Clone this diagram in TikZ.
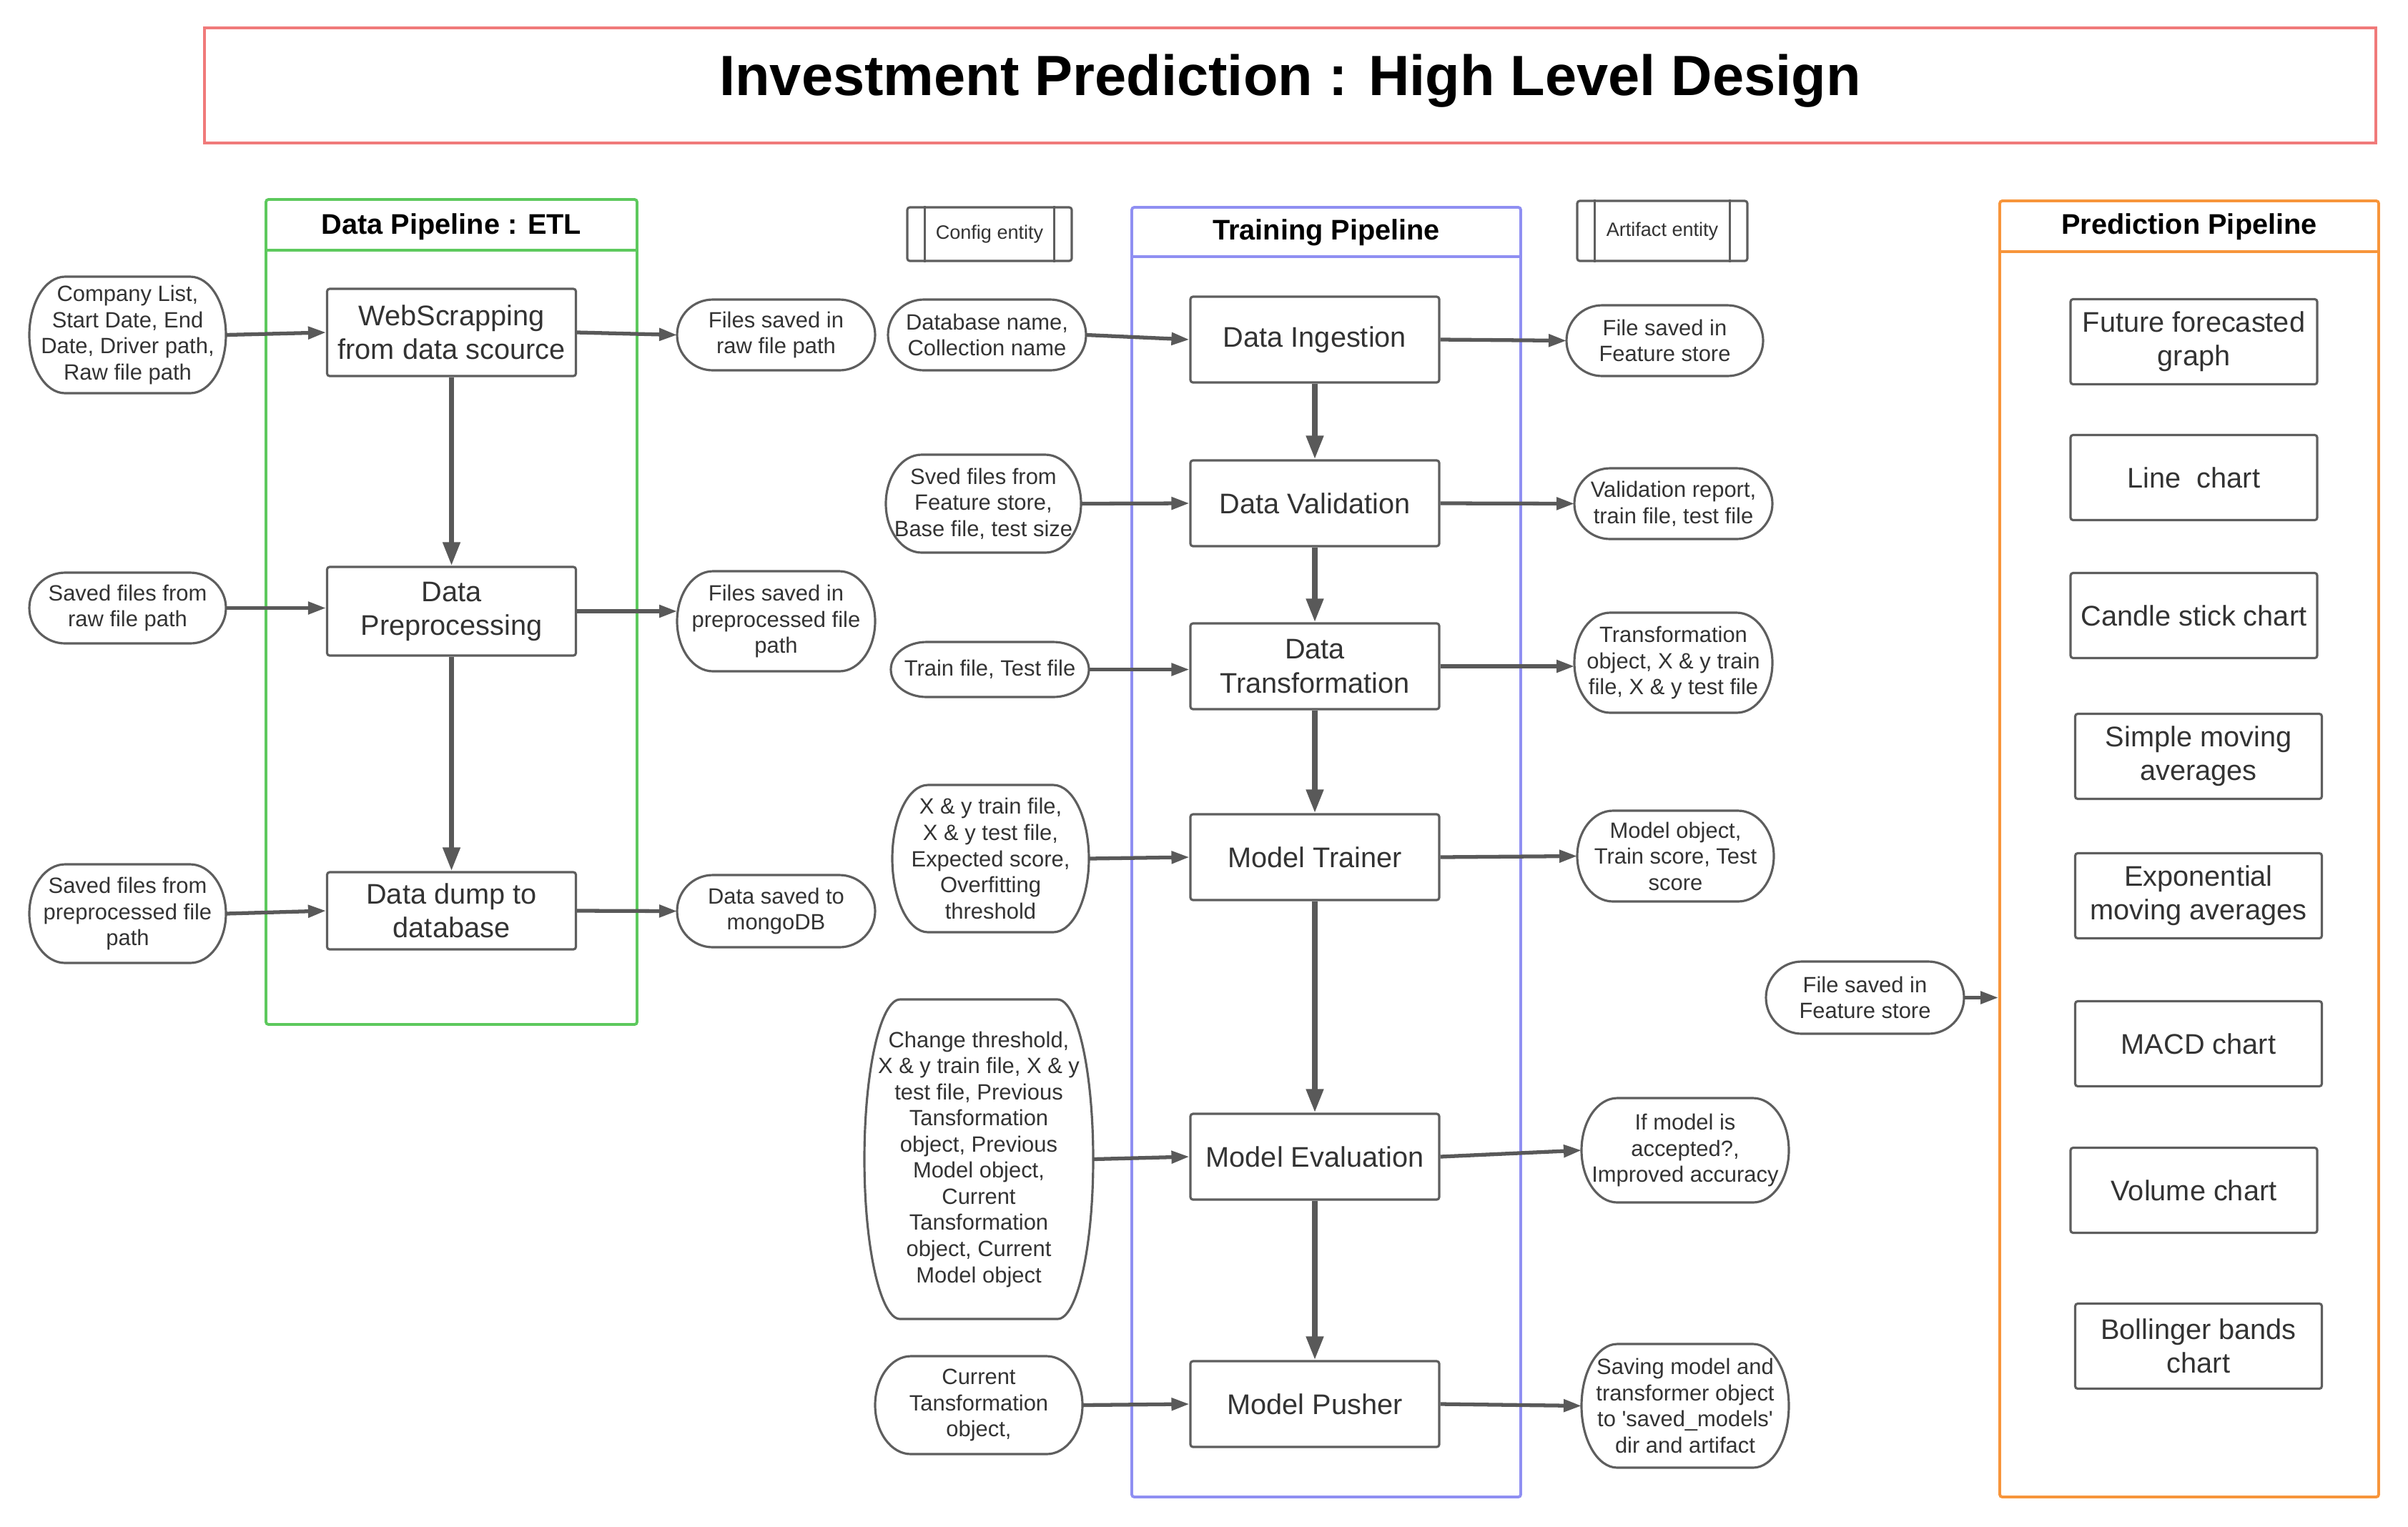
\documentclass[tikz,border=0pt]{standalone}
\usepackage{fontspec}
\setmainfont{Liberation Sans}
\usetikzlibrary{arrows.meta,calc}

\definecolor{linegray}{HTML}{5E5E5E}
\definecolor{arrgray}{HTML}{595959}
\definecolor{txtgray}{HTML}{333333}
\definecolor{etlgreen}{HTML}{5DC95D}
\definecolor{trainblue}{HTML}{8F8FF2}
\definecolor{predorange}{HTML}{F7953B}
\definecolor{titlered}{HTML}{F07A7A}

\newcommand\termfont{\fontsize{8.8}{10.4}\selectfont}
\newcommand\procfont{\fontsize{11.3}{13.4}\selectfont}
\newcommand\headfont{\fontsize{11.3}{13.4}\selectfont\bfseries}
\newcommand\entfont{\fontsize{7.7}{9}\selectfont}

% terminator outline round a named node
\newcommand\termshape[1]{%
  \draw[termline] let \p1=(#1.north west), \p2=(#1.south east), \n1={(\y1-\y2)/2} in
    (\x1+0.5cm,\y1) -- (\x2-0.5cm,\y1)
    arc[start angle=90, end angle=-90, x radius=0.5cm, y radius=\n1]
    -- (\x1+0.5cm,\y2)
    arc[start angle=270, end angle=90, x radius=0.5cm, y radius=\n1] -- cycle;}

\begin{document}
\begin{tikzpicture}[>=Stealth,font=\termfont,text=txtgray]
\tikzstyle{proc}=[draw=linegray,line width=0.9pt,rounded corners=1pt,minimum width=3.48cm,minimum height=1.2cm,align=center,font=\procfont]
\tikzstyle{pbox}=[draw=linegray,line width=0.9pt,rounded corners=1pt,minimum width=3.45cm,minimum height=1.19cm,align=center,font=\procfont]
\tikzstyle{term}=[align=center,inner sep=0pt,outer sep=0pt]
\tikzstyle{termline}=[draw=linegray,line width=0.9pt]
\tikzstyle{lane}=[line width=1.1pt,rounded corners=1pt]
\tikzstyle{arr}=[-{Triangle[length=0.25cm,width=0.17cm]},line width=1.5pt,draw=arrgray]
\tikzstyle{varr}=[-{Triangle[length=0.33cm,width=0.23cm]},line width=2.1pt,draw=arrgray]

\useasboundingbox (0,0) rectangle (33.68,-21.35);

% title
\node[draw=titlered,line width=1pt,minimum width=30.37cm,minimum height=1.61cm] (title) at (18.045,-1.195) {};
\node[font=\fontsize{22.6}{27}\selectfont\bfseries,text=black] (titletext) at (18.045,-1.135) {Investment Prediction : High Level Design};

% lanes
\node[lane,draw=etlgreen,minimum width=5.19cm,minimum height=11.54cm] (etl) at (6.315,-8.56) {};
\draw[lane,etlgreen] ($(etl.north west)+(0,-0.73)$) -- ($(etl.north east)+(0,-0.73)$);
\node[font=\headfont,text=black] (etlhead) at (6.315,-3.17) {Data Pipeline : ETL};
\node[lane,draw=trainblue,minimum width=5.44cm,minimum height=18.04cm] (train) at (18.55,-11.92) {};
\draw[lane,trainblue] ($(train.north west)+(0,-0.71)$) -- ($(train.north east)+(0,-0.71)$);
\node[font=\headfont,text=black] (trainhead) at (18.55,-3.255) {Training Pipeline};
\node[lane,draw=predorange,minimum width=5.30cm,minimum height=18.13cm] (pred) at (30.62,-11.875) {};
\draw[lane,predorange] ($(pred.north west)+(0,-0.73)$) -- ($(pred.north east)+(0,-0.73)$);
\node[font=\headfont,text=black] (predhead) at (30.62,-3.175) {Prediction Pipeline};

% entity keys
\node[draw=linegray,line width=0.9pt,rounded corners=1pt,minimum width=2.30cm,minimum height=0.75cm,font=\entfont] (cfg) at (13.84,-3.275) {Config entity};
\node[draw=linegray,line width=0.9pt,rounded corners=1pt,minimum width=2.38cm,minimum height=0.84cm,font=\entfont] (art) at (23.25,-3.23) {Artifact entity};
\foreach \e in {cfg,art} {
  \draw[linegray,line width=0.9pt] ($(\e.north west)+(0.26,0)$) -- ($(\e.south west)+(0.26,0)$);
  \draw[linegray,line width=0.9pt] ($(\e.north east)+(-0.26,0)$) -- ($(\e.south east)+(-0.26,0)$);
}

% data pipeline steps
\node[proc,minimum height=1.22cm] (ws) at (6.315,-4.65) {WebScrapping\\from data scource};
\node[proc,minimum height=1.24cm] (pre) at (6.315,-8.55) {Data\\Preprocessing};
\node[proc,minimum height=1.08cm] (dump) at (6.315,-12.74) {Data dump to\\database};

% training steps
\foreach \nm/\y/\txt in {ing/4.75/Data Ingestion, val/7.04/Data Validation, trf/9.32/{Data\\Transformation}, trn/11.99/Model Trainer, evl/16.18/Model Evaluation, psh/19.64/Model Pusher}
  \node[proc] (\nm) at (18.39,-\y) {\txt};

% prediction outputs
\foreach \nm/\x/\y/\txt in {fut/30.685/4.78/{Future forecasted\\graph}, lin/30.685/6.68/Line~~chart, can/30.685/8.61/Candle stick chart, sma/30.75/10.58/{Simple moving\\averages}, ema/30.75/12.53/{Exponential\\moving averages}, macd/30.75/14.60/MACD chart, vol/30.685/16.65/Volume chart, bol/30.75/18.83/{Bollinger bands\\chart}}
  \node[pbox] (\nm) at (\x,-\y) {\txt};

% inputs and artifacts
\foreach \nm/\x/\y/\w/\h/\txt in {
  cl/1.785/4.685/2.75/1.63/{Company List,\\Start Date, End\\Date, Driver path,\\Raw file path},
  sr/1.785/8.505/2.75/0.99/{Saved files from\\raw file path},
  sp/1.785/12.78/2.75/1.38/{Saved files from\\preprocessed file\\path},
  fr/10.855/4.685/2.77/0.99/{Files saved in\\raw file path},
  fp/10.855/8.69/2.77/1.40/{Files saved in\\preprocessed file\\path},
  fm/10.855/12.745/2.77/1.01/{Data saved to\\mongoDB},
  db/13.805/4.685/2.77/0.99/{Database name,\\Collection name},
  sv/13.755/7.045/2.73/1.37/{Sved files from\\Feature store,\\Base file, test size},
  tt/13.845/9.365/2.77/0.77/{Train file, Test file},
  xy/13.855/12.01/2.75/2.06/{X \& y train file,\\X \& y test file,\\Expected score,\\Overfitting\\threshold},
  ch/13.69/16.215/3.20/4.47/{Change threshold,\\X \& y train file, X \& y\\test file, Previous\\Tansformation\\object, Previous\\Model object,\\Current\\Tansformation\\object, Current\\Model object},
  cu/13.69/19.655/2.90/1.37/{Current\\Tansformation\\object,},
  afs/23.285/4.765/2.75/0.99/{File saved in\\Feature store},
  avr/23.405/7.045/2.77/0.99/{Validation report,\\train file, test file},
  atr/23.405/9.27/2.77/1.40/{Transformation\\object, X \& y train\\file, X \& y test file},
  amo/23.435/11.975/2.75/1.27/{Model object,\\Train score, Test\\score},
  aev/23.57/16.09/2.90/1.46/{If model is\\accepted?,\\Improved accuracy},
  asv/23.57/19.665/2.90/1.73/{Saving model and\\transformer object\\to \textquotesingle saved\_models\textquotesingle\\dir and artifact},
  pfs/26.085/13.955/2.77/1.01/{File saved in\\Feature store}}
  \node[term,minimum width=\w cm,minimum height=\h cm] (\nm) at (\x,-\y) {\txt};
\foreach \nm in {cl,sr,sp,fr,fp,fm,db,sv,tt,xy,ch,cu,afs,avr,atr,amo,aev,asv,pfs}
  \termshape{\nm};

% data pipeline flow
\draw[arr] (cl.east) -- (ws.west);
\draw[arr] (ws.east) -- (fr.west);
\draw[arr] (sr.east) -- (sr.east -| pre.west);
\draw[arr] (pre.east) -- (pre.east -| fp.west);
\draw[arr] (sp.east) -- (dump.west);
\draw[arr] (dump.east) -- (fm.west);
\draw[varr] (ws.south) -- (pre.north);
\draw[varr] (pre.south) -- (dump.north);

% training flow
\foreach \a/\b/\c in {db/ing/afs, sv/val/avr, xy/trn/amo, ch/evl/aev, cu/psh/asv} {
  \draw[arr] (\a.east) -- (\b.west);
  \draw[arr] (\b.east) -- (\c.west);
}
\draw[arr] (tt.east) -- (tt.east -| trf.west);
\draw[arr] (trf.east) -- (trf.east -| atr.west);
\foreach \a/\b in {ing/val, val/trf, trf/trn, trn/evl, evl/psh}
  \draw[varr] (\a.south) -- (\b.north);

% prediction input
\draw[arr] (pfs.east) -- (pfs.east -| pred.west);
\end{tikzpicture}
\end{document}
